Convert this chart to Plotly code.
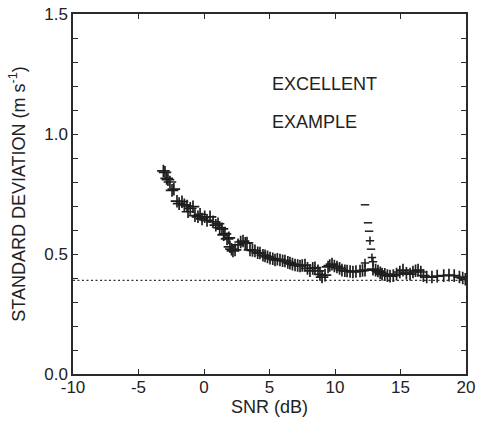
import plotly.graph_objects as go

# main curve: SNR (dB) vs standard deviation (m/s)
snr = [-3.1, -2.98, -2.85, -2.75, -2.6, -2.44, -2.3, -2.06, -1.9, -1.68, -1.5, -1.30, -1.22,
       -1.05, -0.84, -0.69, -0.46, -0.3, -0.15, 0.05, 0.23, 0.46, 0.69, 0.9, 1.07, 1.2, 1.37,
       1.5, 1.60, 1.76, 1.9, 1.98, 2.1, 2.21, 2.37, 2.6, 2.8, 2.98, 3.15, 3.28, 3.51, 3.7,
       3.89, 4.1, 4.27, 4.5, 4.66, 4.85, 5.04, 5.25, 5.42, 5.6, 5.8, 6.0, 6.18, 6.4, 6.56,
       6.75, 6.95, 7.15, 7.33, 7.5, 7.71, 7.9, 8.09, 8.3, 8.47, 8.7, 8.85, 9.01, 9.24, 9.47,
       9.6, 9.77, 9.95, 10.15, 10.35, 10.53, 10.75, 10.92, 11.15, 11.37, 11.6, 11.91, 12.1,
       12.29, 12.9, 13.1, 13.28, 13.45, 13.59, 13.8, 14.0, 14.2, 14.45, 14.7, 14.95, 15.19,
       15.45, 15.73, 15.95, 16.15, 16.34, 16.55, 16.75, 17.0, 17.4, 17.8, 18.3, 18.7, 19.1,
       19.5, 19.75, 19.95]
std = [0.846, 0.84, 0.815, 0.81, 0.80, 0.765, 0.77, 0.72, 0.71, 0.718, 0.705, 0.70, 0.676,
       0.69, 0.697, 0.66, 0.655, 0.665, 0.646, 0.655, 0.64, 0.655, 0.634, 0.62, 0.626, 0.61,
       0.605, 0.58, 0.584, 0.563, 0.567, 0.53, 0.52, 0.513, 0.517, 0.538, 0.55, 0.554, 0.545,
       0.546, 0.517, 0.515, 0.513, 0.505, 0.504, 0.495, 0.492, 0.488, 0.483, 0.48, 0.475,
       0.478, 0.475, 0.472, 0.471, 0.465, 0.462, 0.458, 0.454, 0.452, 0.45, 0.452, 0.454,
       0.44, 0.43, 0.44, 0.443, 0.43, 0.415, 0.404, 0.412, 0.446, 0.452, 0.458, 0.45, 0.446,
       0.44, 0.433, 0.43, 0.429, 0.427, 0.425, 0.427, 0.429, 0.431, 0.433, 0.437, 0.433,
       0.429, 0.422, 0.416, 0.415, 0.41, 0.408, 0.41, 0.416, 0.425, 0.433, 0.42, 0.416,
       0.425, 0.43, 0.433, 0.425, 0.41, 0.404, 0.404, 0.408, 0.41, 0.412, 0.41, 0.404,
       0.40, 0.395]

# spike near 12.5 dB: dash-only points and cross points
spike_dash_snr = [12.29, 12.52, 12.6, 12.75]
spike_dash_std = [0.705, 0.63, 0.595, 0.52]
spike_cross_snr = [12.67, 12.82, 12.9, 12.29]
spike_cross_std = [0.555, 0.485, 0.468, 0.463]

# dotted reference level
ref_snr = [-10, 20]
ref_std = [0.39, 0.39]

# tick labels
x_ticks = [-10, -5, 0, 5, 10, 15, 20]
x_labels = ["-10", "-5", "0", "5", "10", "15", "20"]
y_ticks = [0.0, 0.5, 1.0, 1.5]
y_labels = ["0.0", "0.5", "1.0", "1.5"]

ink = "#1e1e1e"
fig = go.Figure()
fig.add_trace(go.Scatter(x=ref_snr, y=ref_std, mode="lines",
                         line=dict(color="#333", width=1.4, dash="2px,2.5px"),
                         hoverinfo="skip"))
fig.add_trace(go.Scatter(x=snr, y=std, mode="markers",
                         marker=dict(symbol="cross-thin", size=9,
                                     line=dict(color=ink, width=1.7))))
fig.add_trace(go.Scatter(x=spike_dash_snr, y=spike_dash_std, mode="markers",
                         marker=dict(symbol="line-ew", size=6,
                                     line=dict(color=ink, width=1.5))))
fig.add_trace(go.Scatter(x=spike_cross_snr, y=spike_cross_std, mode="markers",
                         marker=dict(symbol="cross-thin", size=6,
                                     line=dict(color=ink, width=1.5))))

font = "Liberation Sans, Arial, sans-serif"
fig.add_annotation(x=5, y=1.21, text="EXCELLENT", showarrow=False, xanchor="left",
                   font=dict(family=font, size=18, color="#222"))
fig.add_annotation(x=5, y=1.05, text="EXAMPLE", showarrow=False, xanchor="left",
                   font=dict(family=font, size=18, color="#222"))

axis_common = dict(showline=True, mirror="ticks", linecolor="#2a2a2a", linewidth=1.5,
                   ticks="inside", ticklen=5, tickwidth=1, tickcolor="#2a2a2a",
                   showgrid=False, zeroline=False, automargin=False,
                   tickfont=dict(family=font, size=17, color="#222"))
fig.update_xaxes(range=[-10, 20], tickmode="array", tickvals=x_ticks, ticktext=x_labels,
                 ticklabelstandoff=-3,
                 title=dict(text="SNR (dB)", font=dict(family=font, size=18, color="#222"),
                            standoff=1),
                 **axis_common)
fig.update_yaxes(range=[0, 1.5], tickmode="array", tickvals=y_ticks, ticktext=y_labels,
                 minor=dict(dtick=0.1, tick0=0, ticks="inside", ticklen=5, tickcolor="#2a2a2a"),
                 title=dict(text="STANDARD DEVIATION (m s<sup>-1</sup>)",
                            font=dict(family=font, size=18, color="#222"), standoff=14),
                 **axis_common)
fig.update_layout(width=477, height=425, showlegend=False, template="none",
                  margin=dict(l=73, r=11, t=14, b=51),
                  paper_bgcolor="white", plot_bgcolor="white")
# remove the default page-body margin so the figure sits at the window's top-left corner
fig.write_html("out.html",
               config={"displayModeBar": False},
               post_script="document.body.style.margin='0';document.body.style.overflow='hidden';")
